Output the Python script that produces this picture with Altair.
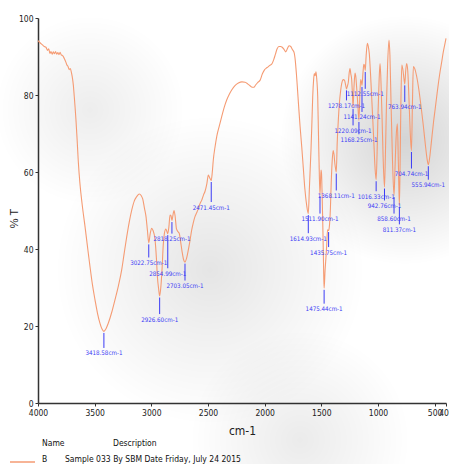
import altair as alt
import pandas as pd

# IR transmittance spectrum, sample B
wavenumber = [
    4000, 3980, 3960, 3945, 3930, 3915, 3905, 3895, 3885, 3875, 3865, 3855, 3845, 3835,
    3825, 3815, 3805, 3795, 3785, 3775, 3765, 3755, 3745, 3735, 3725, 3715, 3705, 3695,
    3688, 3680, 3672, 3665, 3655, 3645, 3630, 3610, 3585, 3560, 3541, 3520, 3497, 3475,
    3453, 3435, 3418.58, 3400, 3380, 3350, 3321, 3290, 3262, 3240, 3217, 3195, 3173, 3150,
    3129, 3106, 3090, 3076, 3060, 3047, 3035, 3022.75, 3010, 2997, 2985, 2968, 2955, 2947,
    2935, 2926.60, 2915, 2905, 2895, 2885, 2872, 2862, 2854.99, 2845, 2835, 2826, 2818.25,
    2808, 2800, 2790, 2778, 2765, 2753, 2742, 2730, 2715, 2703.05, 2690, 2674, 2660, 2644,
    2630, 2615, 2600, 2585, 2570, 2555, 2540, 2526, 2510, 2497, 2485, 2471.45, 2462, 2453,
    2438, 2423, 2400, 2379, 2357, 2335, 2312, 2291, 2260, 2232, 2200, 2173, 2150, 2129,
    2110, 2095, 2080, 2060, 2041, 2020, 2000, 1985, 1970, 1955, 1938, 1920, 1905, 1890,
    1875, 1860, 1845, 1828, 1814, 1800, 1785, 1770, 1755, 1740, 1730, 1720, 1712, 1700,
    1688, 1673, 1659, 1645, 1630, 1614.93, 1606, 1598, 1591, 1583, 1576, 1568, 1562, 1555,
    1547, 1540, 1532, 1526, 1520, 1511.90, 1503, 1498, 1494, 1489, 1485, 1479, 1475.44,
    1467, 1460, 1453, 1445, 1435.75, 1428, 1420, 1413, 1405, 1396, 1388, 1380, 1374,
    1368.11, 1360, 1350, 1341, 1330, 1320, 1306, 1295, 1286, 1278.17, 1268, 1262, 1254,
    1247, 1240, 1232, 1226, 1220.09, 1212, 1203, 1195, 1188, 1178, 1168.25, 1160, 1153,
    1147, 1141.24, 1132, 1125, 1118, 1112.55, 1105, 1094, 1085, 1077, 1066, 1056, 1045,
    1035, 1025, 1016.33, 1008, 1000, 990, 982, 975, 965, 955, 942.76, 935, 925, 915, 903,
    895, 885, 872, 858.60, 850, 840, 829, 820, 811.37, 805, 798, 790, 780, 770, 763.94,
    755, 747, 738, 728, 716, 704.74, 696, 688, 675, 660, 640, 620, 600, 580, 565, 555.94,
    545, 530, 510, 495, 482, 465, 450, 440, 425, 410, 400,
]
transmittance = [
    94.1, 93.5, 93.0, 92.6, 92.4, 91.6, 92.0, 90.8, 91.3, 90.6, 91.2, 90.7, 91.3, 90.6,
    91.0, 90.5, 91.1, 90.4, 90.3, 89.9, 89.3, 88.6, 87.8, 87.4, 86.6, 86.9, 85.8, 84.2,
    82.5, 79.6, 76.5, 73.5, 68.5, 63.0, 57.0, 51.5, 45.8, 39.8, 35.4, 30.8, 26.8, 23.3,
    20.7, 19.2, 18.6, 19.3, 20.7, 23.5, 26.8, 30.5, 34.5, 38.8, 43.2, 47.0, 50.1, 52.5,
    53.6, 54.3, 53.9, 53.0, 50.5, 48.4, 45.0, 41.6, 44.0, 45.4, 44.8, 42.6, 37.5, 33.0,
    29.5, 27.8, 30.5, 35.0, 41.0, 44.0, 45.2, 44.5, 44.0, 45.8, 48.8, 48.6, 47.4,
    49.0, 50.0, 48.5, 45.2, 44.5, 44.0, 42.0, 39.6, 37.2, 36.6, 37.5, 39.7, 42.0, 44.9,
    46.8, 48.4, 49.4, 50.5, 51.8, 52.7, 54.0, 55.0, 57.0, 59.2, 58.5, 57.8, 60.0, 63.2,
    66.5, 69.2, 72.0, 74.4, 76.8, 78.7, 80.2, 81.3, 82.5, 83.1, 83.4, 83.3, 82.9, 82.4,
    82.0, 82.0, 82.6, 83.3, 83.8, 85.5, 86.6, 87.0, 87.3, 87.7, 88.0, 89.2, 90.6, 92.0,
    92.6, 92.6, 92.4, 91.8, 91.2, 92.0, 92.8, 92.6, 91.8, 91.0, 89.0, 85.5, 82.2, 77.0,
    72.0, 66.6, 61.0, 55.5, 51.5, 49.2, 55.3, 61.0, 66.0, 73.0, 79.6, 84.0, 85.6, 85.0,
    86.0, 84.0, 79.6, 71.0, 62.5, 54.1, 60.5, 59.5, 55.3, 49.0, 43.2, 33.5, 29.8,
    34.5, 37.5, 40.8, 45.0, 44.8, 46.2, 50.5, 57.0, 62.5, 65.6, 64.5, 62.0, 60.8,
    60.0, 67.5, 73.5, 77.8, 81.0, 83.0, 84.0, 83.8, 82.6, 81.6, 82.5, 83.3, 85.8,
    86.9, 85.5, 83.9, 80.5, 76.8, 82.0, 85.7, 84.5, 81.8, 77.5, 73.4, 80.0, 84.0,
    83.5, 82.5, 86.0, 88.0, 87.5, 86.4, 90.0, 93.4, 92.5, 90.8, 85.5, 79.6, 73.0,
    66.6, 60.5, 58.0, 65.0, 75.0, 84.0, 88.2, 84.5, 75.0, 64.0, 56.1, 64.0, 78.0, 88.0, 94.3,
    90.5, 78.0, 63.0, 53.9, 61.0, 69.0, 72.5, 62.0, 51.3, 62.0, 78.0, 87.8, 86.5, 84.0, 82.9,
    86.5, 88.2, 86.5, 80.0, 70.5, 65.6, 78.0, 87.4, 86.8, 85.0, 81.5, 77.0, 72.0, 66.5, 63.0, 61.9,
    63.5, 67.5, 73.0, 76.5, 79.6, 83.5, 86.5, 88.2, 91.0, 93.2, 94.7,
]

# Picked absorption bands
peak_wn = [3418.58, 3022.75, 2926.60, 2854.99, 2818.25, 2703.05, 2471.45, 1614.93,
           1511.90, 1475.44, 1435.75, 1368.11, 1278.17, 1220.09, 1168.25, 1141.24,
           1112.55, 1016.33, 942.76, 858.60, 811.37, 763.94, 704.74, 555.94]
peak_t = [18.6, 41.6, 27.8, 44.0, 47.4, 36.6, 57.8, 49.2, 54.1, 29.8, 44.8, 60.0,
          81.6, 76.8, 73.4, 82.5, 86.4, 58.0, 56.1, 53.9, 51.3, 82.9, 65.6, 61.9]

# Length of each marker stem below its band (in %T)
stem_len = [3.9, 3.4, 4.3, 8.6, 3.0, 4.4, 5.2, 4.7, 4.5, 3.6, 3.9, 4.4, 2.6, 4.3,
            3.2, 6.5, 4.4, 2.6, 3.1, 4.3, 4.5, 4.3, 4.3, 3.5]

x_ticks = [4000, 3500, 3000, 2500, 2000, 1500, 1000, 500, 400]
y_ticks = [0, 10, 20, 30, 40, 50, 60, 70, 80, 90, 100]

legend_name = "B"
legend_desc = "Sample 033 By SBM Date Friday, July 24 2015"

LINE = "#f59b73"
BLUE = "#3b3bf5"
NARROW = "Liberation Sans Narrow, DejaVu Sans Condensed, Arial Narrow, sans-serif"
W, H = 408, 385

curve = pd.DataFrame({"wn": wavenumber, "T": transmittance})
peaks = pd.DataFrame({"wn": peak_wn, "T": peak_t, "stem": stem_len})
peaks["top"] = peaks["T"] - 0.4
peaks["bottom"] = peaks["top"] - peaks["stem"]
peaks["label"] = [f"{w:.2f}cm-1" for w in peak_wn]

x_scale = alt.Scale(domain=[400, 4000], reverse=True, nice=False, zero=False)
y_scale = alt.Scale(domain=[0, 100], nice=False, zero=False)

x_axis = alt.Axis(values=x_ticks, format="d", title="cm-1", titleY=27,
                  titleBaseline="middle", titleFont=NARROW, titleFontSize=12,
                  titleFontWeight="normal", labelOverlap=False, labelFlush=False,
                  labelPadding=2)
y_axis = alt.Axis(values=y_ticks, format="d", title="% T", titleX=-24, titleY=200,
                  titleAlign="center", titleBaseline="middle", titleAngle=-90,
                  titleFont="Liberation Sans", titleFontSize=11,
                  titleFontWeight="normal", labelPadding=2)


# Soft grey shading of the page: circular radial-gradient blobs
# (centre and radius in pixels relative to the plot origin)
def shade(cx, cy, r, alpha):
    grad = alt.RadialGradient(
        gradient="radial",
        stops=[alt.GradientStop(color=f"rgba(0,0,0,{alpha})", offset=0),
               alt.GradientStop(color=f"rgba(0,0,0,{alpha * 0.6})", offset=0.4),
               alt.GradientStop(color="rgba(0,0,0,0)", offset=1)],
        x1=0.5, y1=0.5, r1=0, x2=0.5, y2=0.5, r2=0.5,
    )
    return alt.Chart(pd.DataFrame({"k": [0]})).mark_rect(fill=grad, strokeWidth=0).encode(
        x=alt.value(cx - r), x2=alt.value(cx + r), y=alt.value(cy - r), y2=alt.value(cy + r)
    )


haze = [
    shade(172, 252, 155, 0.10),
    shade(367, 122, 125, 0.17),
    shade(52, 92, 95, 0.07),
    shade(262, 422, 110, 0.08),
]

line = alt.Chart(curve).mark_line(color=LINE, strokeWidth=1.1, interpolate="monotone").encode(
    x=alt.X("wn:Q", scale=x_scale, axis=x_axis),
    y=alt.Y("T:Q", scale=y_scale, axis=y_axis),
)

stems = alt.Chart(peaks).mark_rule(color=BLUE, strokeWidth=1).encode(
    x=alt.X("wn:Q", scale=x_scale),
    y=alt.Y("top:Q", scale=y_scale),
    y2="bottom:Q",
)

labels = alt.Chart(peaks).mark_text(
    color=BLUE, font=NARROW, fontSize=6.2, align="center", baseline="middle", dy=5.5
).encode(
    x=alt.X("wn:Q", scale=x_scale),
    y=alt.Y("bottom:Q", scale=y_scale),
    text="label:N",
)

# Legend table below the axis, each cell on a white patch
cells = pd.DataFrame({"x0": [2, 73, 1, 25], "x1": [22, 108, 9, 160],
                      "y0": [H + 34, H + 34, H + 50, H + 50],
                      "y1": [H + 46, H + 46, H + 62, H + 62]})
cell_bg = alt.Chart(cells).mark_rect(fill="white", strokeWidth=0).encode(
    x=alt.X("x0:Q", scale=None), x2="x1:Q",
    y=alt.Y("y0:Q", scale=None), y2="y1:Q",
)

hdr = pd.DataFrame({"text": ["Name", "Description"], "px": [4, 75]})
legend_hdr = alt.Chart(hdr).mark_text(
    font=NARROW, fontSize=8.5, align="left", baseline="middle", color="#111"
).encode(x=alt.X("px:Q", scale=None), y=alt.value(H + 40), text="text:N")

row = pd.DataFrame({"text": [legend_name, legend_desc], "px": [4, 27]})
legend_row = alt.Chart(row).mark_text(
    font=NARROW, fontSize=8.5, align="left", baseline="middle", color="#111"
).encode(x=alt.X("px:Q", scale=None), y=alt.value(H + 56), text="text:N")

legend_swatch = alt.Chart(pd.DataFrame({"n": [legend_name]})).mark_rule(
    color=LINE, strokeWidth=1.5
).encode(x=alt.value(-28), x2=alt.value(-3), y=alt.value(H + 59))

chart = alt.layer(*haze, line, stems, labels, cell_bg, legend_hdr, legend_row,
                  legend_swatch).properties(
    width=W, height=H,
    padding={"left": 38, "top": 18, "right": 3, "bottom": 61},
    autosize="none",
    background="white",
).configure_view(stroke=None).configure_axis(
    grid=False, domainColor="#333", domainWidth=1.5, tickColor="#333", tickSize=3,
    tickWidth=1, labelFont=NARROW, labelFontSize=8.5, labelColor="#222", titleColor="#222",
)

chart.save("out.html", embed_options={"renderer": "svg", "actions": False})
